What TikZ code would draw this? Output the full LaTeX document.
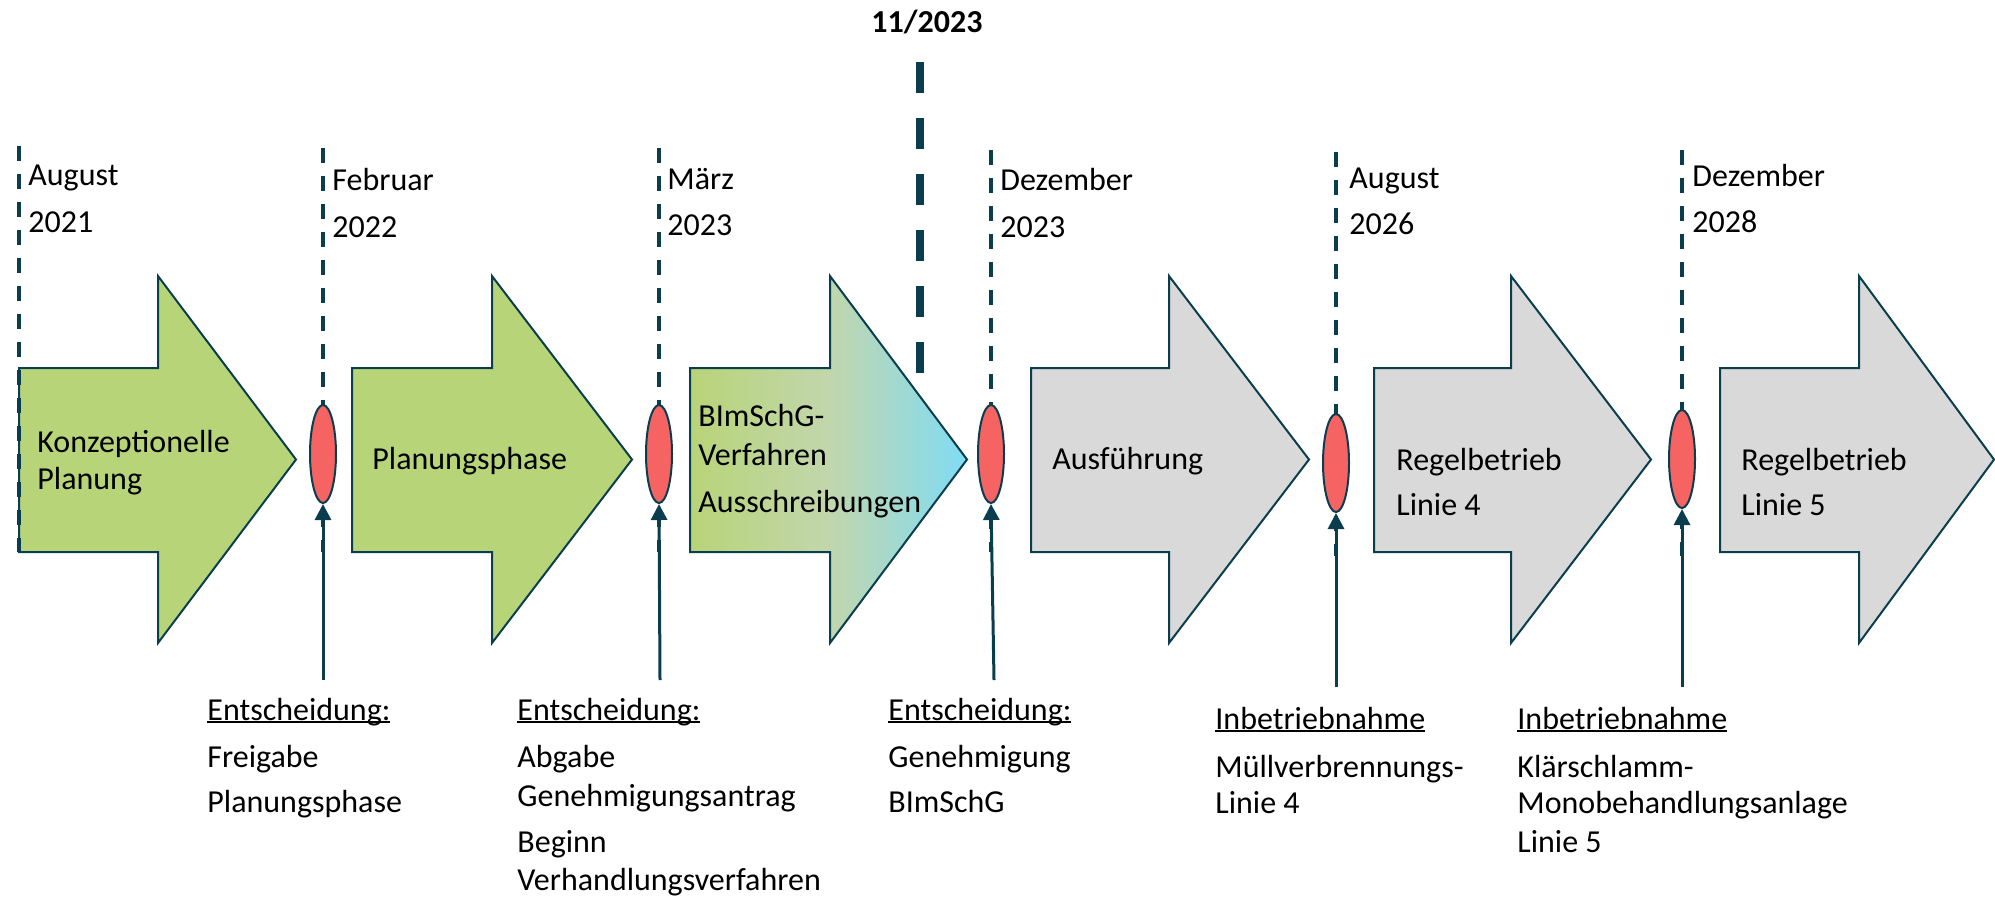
\documentclass[tikz,border=0pt]{standalone}
\usepackage{fontspec}
\setmainfont{Carlito}
\usetikzlibrary{shapes.geometric,arrows.meta}
\definecolor{dteal}{RGB}{10,62,78}
\definecolor{agreen}{RGB}{184,212,120}
\definecolor{agray}{RGB}{217,217,217}
\definecolor{ared}{RGB}{245,99,99}
\definecolor{acyan}{RGB}{128,220,245}
\definecolor{amid}{RGB}{194,214,172}
\newcommand\fs{\fontsize{16pt}{19pt}\selectfont}
\newcommand\myul[1]{\setbox0\hbox{#1}\rlap{\rule[-1.7pt]{\wd0}{1pt}}\box0}
\newcommand\phase[4]{%
  \path[#4] (#1,368) -- (#2,368) -- (#2,276) -- (#3,459.5) -- (#2,643) -- (#2,552) -- (#1,552) -- cycle;}
\tikzset{
  txt/.style={anchor=base west, inner sep=0pt, font=\fs},
  shapeline/.style={draw=dteal, line width=1pt, line join=miter},
  milestone/.style={ellipse, draw=dteal, fill=ared, line width=1pt, minimum width=13pt, minimum height=49pt, inner sep=0pt},
  dateline/.style={draw=dteal, line width=2pt, dash pattern=on 7.5pt off 6.5pt},
  nowline/.style={draw=dteal, line width=4pt, dash pattern=on 15.5pt off 12.5pt},
  conn/.style={draw=dteal, line width=1.5pt, -{Triangle[width=8pt,length=8pt]}}
}
\begin{document}
\begin{tikzpicture}[x=0.5pt,y=-0.5pt]
\useasboundingbox (0,0) rectangle (1995,896);
% phase arrows
\phase{19}{158}{296}{shapeline, fill=agreen}
\phase{352}{492}{632}{shapeline, fill=agreen}
\phase{690}{830}{967}{shapeline, left color=agreen, right color=acyan, middle color=amid}
\phase{1031}{1169}{1309}{shapeline, fill=agray}
\phase{1374}{1511}{1651}{shapeline, fill=agray}
\phase{1720}{1859}{1994}{shapeline, fill=agray}
% phase texts
\node[txt] (p1a) at (37,452) {Konzeptionelle};
\node[txt] (p1b) at (37,489) {Planung};
\node[txt] (p2) at (372,469) {Planungsphase};
\node[txt] (p3a) at (698,426) {BImSchG-};
\node[txt] (p3b) at (698,465) {Verfahren};
\node[txt] (p3c) at (698,512) {Ausschreibungen};
\node[txt] (p4) at (1052,469) {Ausführung};
\node[txt] (p5a) at (1396,470) {Regelbetrieb};
\node[txt] (p5b) at (1396,515) {Linie 4};
\node[txt] (p6a) at (1741,470) {Regelbetrieb};
\node[txt] (p6b) at (1741,515) {Linie 5};
% date lines
\coordinate (d0t) at (19,146); \coordinate (d0b) at (19,552);
\coordinate (d1t) at (323,148); \coordinate (d1b) at (323,552);
\coordinate (d2t) at (659,148); \coordinate (d2b) at (659,552);
\coordinate (d3t) at (991,150); \coordinate (d3b) at (991,552);
\coordinate (d4t) at (1336,152); \coordinate (d4b) at (1336,556);
\coordinate (d5t) at (1682,150); \coordinate (d5b) at (1682,556);
\foreach \i in {0,...,5} {\draw[dateline] (d\i t) -- (d\i b);}
% now line
\coordinate (nowt) at (920,62); \coordinate (nowb) at (920,373);
\draw[nowline] (nowt) -- (nowb);
\node[anchor=base, inner sep=0pt, font=\fs\bfseries] (now) at (927,32) {11/2023};
% date labels
\node[txt] (m0a) at (28,185) {August};
\node[txt] (m0b) at (28,232) {2021};
\node[txt] (m1a) at (332,190) {Februar};
\node[txt] (m1b) at (332,237) {2022};
\node[txt] (m2a) at (667,189) {März};
\node[txt] (m2b) at (667,235) {2023};
\node[txt] (m3a) at (1000,190) {Dezember};
\node[txt] (m3b) at (1000,237) {2023};
\node[txt] (m4a) at (1349,188) {August};
\node[txt] (m4b) at (1349,234) {2026};
\node[txt] (m5a) at (1692,186) {Dezember};
\node[txt] (m5b) at (1692,232) {2028};
% milestones
\node[milestone] (e1) at (323,454) {};
\node[milestone] (e2) at (659,454) {};
\node[milestone] (e3) at (991,454) {};
\node[milestone] (e4) at (1336,463) {};
\node[milestone] (e5) at (1682,459) {};
% connectors
\coordinate (b1) at (323,680);
\coordinate (b2) at (660,680);
\coordinate (b3) at (994,680);
\coordinate (b4) at (1336,687);
\coordinate (b5) at (1682,687);
\foreach \i in {1,...,5} {\draw[conn] (b\i) -- (e\i.south);}
% bottom labels
\node[txt] (l1a) at (207,720) {\myul{Entscheidung:}};
\node[txt] (l1b) at (207,767) {Freigabe};
\node[txt] (l1c) at (207,812) {Planungsphase};
\node[txt] (l2a) at (517,720) {\myul{Entscheidung:}};
\node[txt] (l2b) at (517,767) {Abgabe};
\node[txt] (l2c) at (517,806) {Genehmigungsantrag};
\node[txt] (l2d) at (517,852) {Beginn};
\node[txt] (l2e) at (517,890) {Verhandlungsverfahren};
\node[txt] (l3a) at (888,720) {\myul{Entscheidung:}};
\node[txt] (l3b) at (888,767) {Genehmigung};
\node[txt] (l3c) at (888,812) {BImSchG};
\node[txt] (l4a) at (1215,729) {\myul{Inbetriebnahme}};
\node[txt] (l4b) at (1215,777) {Müllverbrennungs-};
\node[txt] (l4c) at (1215,813) {Linie 4};
\node[txt] (l5a) at (1517,729) {\myul{Inbetriebnahme}};
\node[txt] (l5b) at (1517,777) {Klärschlamm-};
\node[txt] (l5c) at (1517,813) {Monobehandlungsanlage};
\node[txt] (l5d) at (1517,852) {Linie 5};
\end{tikzpicture}
\end{document}
